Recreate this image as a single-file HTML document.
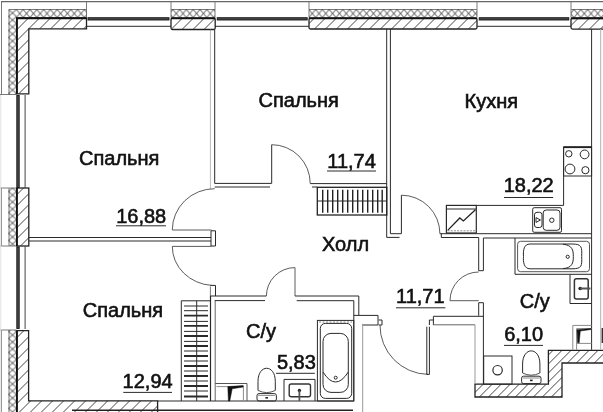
<!DOCTYPE html>
<html lang="ru">
<head>
<meta charset="utf-8">
<title>План квартиры</title>
<style>
html,body{margin:0;padding:0;background:#fff;}
body{width:603px;height:412px;overflow:hidden;}
svg{display:block;}
text{font-family:"Liberation Sans",sans-serif;fill:#111;stroke:#111;stroke-width:0.6;}
.k{stroke:#2a2a2a;stroke-width:1;fill:none;}
.t{stroke:#4a4a4a;stroke-width:0.9;fill:none;}
.k2{stroke:#222;stroke-width:1.6;fill:none;}
.k3{stroke:#111;stroke-width:2.4;fill:none;}
.g{stroke:#8a8a8a;stroke-width:1;fill:none;}
.lg{stroke:#7a7a7a;stroke-width:1;fill:none;}
.w{fill:#fff;stroke:none;}
.room{font-size:20px;}
.area{font-size:20px;}
</style>
</head>
<body>
<svg width="603" height="412" viewBox="0 0 603 412">
<defs>
  <pattern id="diag" width="11" height="11" patternUnits="userSpaceOnUse" patternTransform="translate(2.5,0)">
    <path d="M-1,12 L12,-1 M-1,1 L1,-1 M10,12 L12,10" stroke="#3a3a3a" stroke-width="0.95" fill="none"/>
  </pattern>
  <pattern id="diag9" width="9" height="9" patternUnits="userSpaceOnUse" patternTransform="translate(3.4,0)">
    <path d="M-1,10 L10,-1 M-1,1 L1,-1 M8,10 L10,8" stroke="#3a3a3a" stroke-width="0.95" fill="none"/>
  </pattern>
  <pattern id="crossH" width="6.8" height="8" patternUnits="userSpaceOnUse" patternTransform="translate(9.6,9.5)">
    <path d="M0,0 L6.8,8 M6.8,0 L0,8" stroke="#333" stroke-width="0.9" fill="none"/>
  </pattern>
  <pattern id="crossV" width="8" height="7" patternUnits="userSpaceOnUse" patternTransform="translate(8.5,9.5)">
    <path d="M0,0 L8,7 M8,0 L0,7" stroke="#333" stroke-width="0.9" fill="none"/>
  </pattern>
</defs>
<rect x="0" y="0" width="603" height="412" fill="#fff"/>

<!-- ========== OUTER FRAME (light) ========== -->
<g id="frame" class="lg">
  <path d="M1.5,94.5 V1.7"/>
  <path d="M1,1.6 H603" style="stroke:#666;stroke-width:1.2"/>
  <path d="M86.5,1.7 V17.5"/>
  <path d="M9,94.5 V9.5 H86.5"/>
  <path d="M0,94.5 H16.5"/>
  <path d="M171,1.7 V17.5 M215,1.7 V17.5 M171,9.5 H215"/>
  <path d="M309,1.7 V17.5 M309,9.5 H477 M477,1.7 V17.5"/>
  <path d="M571,1.7 V17.5 M571,9.5 H603"/>
  <path d="M1.5,188 V246 M9,188 V246 M0,188 H16.5 M0,246 H16.5"/>
  <path d="M1.5,330 V412 M9,330 V412 M0,330 H16.5"/>
</g>

<!-- ========== INSULATION (cross hatch) ========== -->
<g id="insul">
  <rect x="16.5" y="9.5" width="70" height="8" fill="url(#crossH)"/>
  <rect x="8.5" y="9.5" width="8" height="85" fill="url(#crossV)"/>
  <rect x="171" y="9.5" width="44" height="8" fill="url(#crossH)"/>
  <rect x="309" y="9.5" width="168" height="8" fill="url(#crossH)"/>
  <rect x="571" y="9.5" width="32" height="8" fill="url(#crossH)"/>
  <rect x="8.5" y="188" width="8" height="58" fill="url(#crossV)"/>
  <rect x="8.5" y="330" width="8" height="82" fill="url(#crossV)"/>
</g>

<!-- ========== STRUCTURAL WALLS (diag hatch) ========== -->
<g id="walls" style="stroke-width:1.3">
  <path d="M16.8,18 H86.5 V28.8 H28.8 V93.8 H16.8 Z" class="k2" style="fill:url(#diag);stroke-width:1.3"/>
  <path d="M16.9,93.8 V18.2 H86.5" class="k3" style="stroke-width:1.9"/>
  <rect x="171" y="18" width="44.2" height="11.5" rx="1.5" class="k2" style="fill:url(#diag);stroke-width:1.3"/>
  <path d="M171,18.4 H215.2" class="k3" style="stroke-width:1.9"/>
  <rect x="309" y="18" width="168" height="11" rx="1.5" class="k2" style="fill:url(#diag);stroke-width:1.3"/>
  <path d="M309,18.4 H477" class="k3" style="stroke-width:1.9"/>
  <path d="M604,18 H572.5 Q571,18 571,19.5 V27.6 Q571,29.1 572.5,29.1 H604" class="k2" style="fill:url(#diag);stroke-width:1.3"/>
  <path d="M571,18.4 H603" class="k3" style="stroke-width:1.9"/>
  <rect x="16.8" y="188" width="12" height="58" class="k2" style="fill:url(#diag);stroke-width:1.3"/>
  <path d="M16.9,188 V246" class="k3" style="stroke-width:1.9"/>
  <path d="M16.8,413 V330.7 H28.6 V400.8 H157.6 V413" class="k2" style="fill:url(#diag);stroke-width:1.3"/>
  <path d="M16.9,330.7 V412" class="k3" style="stroke-width:1.9"/>
  <path d="M475,384.2 H548.4 V350.3 H604 V363 H562 V397 H475 Z" class="k2" style="fill:url(#diag9);stroke-width:1.3"/>
</g>

<!-- ========== WINDOWS ========== -->
<g id="windows">
  <g fill="#4a4a4a" stroke="#161616" stroke-width="0.9">
    <rect x="88" y="17.7" width="81" height="2.3"/>
    <rect x="217.2" y="17.7" width="90" height="2.3"/>
    <rect x="479.2" y="17.7" width="89.6" height="2.3"/>
  </g>
  <path d="M86.5,26.3 H171 M215,26.3 H309 M477,26.3 H571" class="k"/>
  <g fill="#4a4a4a" stroke="#161616" stroke-width="0.9">
    <rect x="16.8" y="95.5" width="2.4" height="92"/>
    <rect x="16.8" y="247" width="2.4" height="81.5"/>
  </g>
  <path d="M25.1,95 V188 M25.1,246 V329" class="k" style="stroke:#444"/>
  <path d="M0.8,95 V412" stroke="#e2e2e2" fill="none"/>
</g>

<!-- ========== PARTITIONS ========== -->
<g id="partitions">
  <!-- bed1 / bed2 vertical -->
  <path d="M210.4,29.5 V188.7" class="lg" stroke-dasharray="1,1"/>
  <path d="M214.7,29.5 V183.4 H271.7" class="k"/>
  <path d="M214.7,187 H270" class="k"/>
  <!-- bed2 door -->
  <path d="M271.7,183.4 V144.7" class="k"/>
  <path d="M271.7,144.7 A38.5,38.7 0 0 1 310.2,183.4" class="t"/>
  <path d="M310.2,183.6 H386.8" class="k"/>
  <path d="M312,187 H317.3" class="k"/>
  <!-- bed2 / kitchen vertical -->
  <path d="M386.7,29 V237.4 H399.5" class="k"/>
  <path d="M390.4,29 V233.7 H401.4 V195.2" class="k"/>
  <path d="M401.4,195.2 A38.5,38.5 0 0 1 439.9,233.7" class="t"/>
  <!-- bed1 door arcs and bed1/bed3 partition -->
  <path d="M214.7,188.7 A42.4,41.3 0 0 0 172.3,230 H211.5" class="t"/>
  <path d="M29,237.5 H211 M29,241 H211" class="k"/>
  <path d="M211,230.8 H215.5 V246 H211 Z" class="k"/>
  <path d="M211.5,246.4 H172.3 A42.4,39 0 0 0 211.7,285.4" class="t"/>
  <path d="M210.4,285.4 H215.5 V296" class="k"/>
  <!-- bath1 top wall -->
  <path d="M210.4,286.5 V296" class="lg"/>
  <path d="M210.5,296 V401" class="k" style="stroke-width:1.2"/>
    <path d="M215.2,300.7 V401" class="k" style="stroke:#666"/>
  <path d="M210.4,296 H266.4 M214.7,300.6 H265" class="k"/>
  <path d="M266.4,296 A28.6,28.4 0 0 1 295,267.6 V296" class="t"/>
  <path d="M295,296 H358.8 V315.4" class="k"/>
  <path d="M296.7,300.7 H353.8 V401" class="k"/>
  <path d="M353.8,315.4 H378 V325 H362" class="k"/>
  <!-- entrance -->
  <path d="M362.7,325 V412" stroke="#999" fill="none"/>
  <path d="M378.7,320 H382 V325 H378.7" class="k"/>
  <path d="M380,325 A49,49 0 0 0 428,374.4" class="t"/>
  <path d="M426.8,326.7 V374.4 H429.4 V326.7" class="k"/>
  <path d="M429.4,320 H433.4 M429.4,320 V325" class="k"/>
  <path d="M433.4,325 V316.3 H483.4" class="k"/>
  <path d="M433.4,324.8 H475" class="k" style="stroke:#666"/>
  <path d="M475,324.8 V384" stroke="#999" fill="none"/>
  <!-- kitchen bottom wall / bath2 -->
  <path d="M439.9,233.7 H591.6" class="k"/>
  <path d="M441.3,233.7 V237.5 H478.7 V270.7 H483.4 V238 H591.6" class="k"/>
  <path d="M478.7,272 A28.7,28.7 0 0 0 450,300.7 H478.7" class="t"/>
  <path d="M478.7,302.7 V315.8 M478.7,302.7 H483.4 V384.2" class="k"/>
  <!-- right wall -->
  <path d="M591.6,29 V349.8" class="k"/>
  <path d="M600.7,29 V349.8" stroke="#b0b0b0" fill="none"/>
  <!-- bottom lines -->
  <path d="M157.6,401 H353.8" class="k"/>
  <path d="M72,410.3 H353" class="k2"/>
</g>

<!-- ========== FURNITURE ========== -->
<g id="furniture">
  <!-- wardrobe in hall -->
  <rect x="317.3" y="187.3" width="69.5" height="27.7" class="k2" style="stroke-width:1.3"/>
  <path d="M317.3,201 H386.8" class="k"/>
  <path d="M322.7,189.7 V212.7 M327.7,189.7 V212.7 M332.7,189.7 V212.7 M337.7,189.7 V212.7 M342.7,189.7 V212.7 M347.7,189.7 V212.7 M352.7,189.7 V212.7 M357.7,189.7 V212.7 M362.7,189.7 V212.7 M367.7,189.7 V212.7 M372.7,189.7 V212.7 M377.7,189.7 V212.7 M382.2,189.7 V212.7" class="k" style="stroke-width:1.4;stroke:#222"/>
  <!-- wardrobe in bed3 -->
  <path d="M181.3,401 V300.8 H210.2" class="k"/>
  <path d="M196.7,300.7 V401" class="k"/>
  <g class="k">
    <path d="M184,306 H208 M184,310.7 H208 M184,321.4 H208 M184,331.4 H208 M184,341.4 H208 M184,351 H208 M184,361 H208 M184,371 H208 M184,381 H208 M184,391 H208"/>
    <path d="M184,315.6 H208 M184,325.8 H208 M184,336 H208 M184,346 H208 M184,356 H208 M184,366 H208 M184,376 H208 M184,386 H208 M184,396.5 H208" style="stroke-width:1.8"/>
  </g>
  <!-- kitchen counter -->
  <path d="M563.6,147 V205.4 H476.3" class="k"/>
  <rect x="563.6" y="147" width="28" height="29" class="k"/>
  <path d="M563.6,147.2 H591.6" class="k2" style="stroke-width:1.8"/>
  <circle cx="568.8" cy="153.8" r="3.2" class="k"/>
  <circle cx="584.6" cy="154.4" r="4.4" class="k"/>
  <circle cx="570" cy="169" r="4.9" class="k"/>
  <circle cx="585.4" cy="170.2" r="3.6" class="k"/>
  <!-- fridge box -->
  <rect x="446.4" y="205.4" width="29.9" height="27.6" class="k" style="stroke-width:1.2"/>
  <path d="M446.4,209 H476.3" class="k"/>
  <path d="M447.7,230.4 L459.8,218 L463.4,221 L475.4,209.7" class="k2" style="stroke-width:1.3"/>
  <path d="M447.5,230.8 H475.5" class="g" stroke-dasharray="2,1.2"/>
  <!-- kitchen sink -->
  <rect x="532.7" y="207.7" width="28.8" height="24.6" rx="1.5" class="k"/>
  <rect x="534.5" y="212.3" width="7.5" height="15.2" rx="2.5" class="k"/>
  <path d="M536,217.6 L540.5,220 L536,222.4 Z" class="k"/>
  <rect x="543.2" y="210" width="16.8" height="20.3" rx="3" class="k"/>
  <circle cx="551.8" cy="220.2" r="2.2" class="k"/>
  <!-- bathtub 2 -->
  <path d="M515,238 V274.3 H591.6" class="k"/>
  <rect x="517.6" y="241.3" width="71.9" height="30.4" rx="3" class="k" style="stroke:#555"/>
  <path d="M530,244 H572 C582,244 582,247 581.7,256.5 C582,266 582,268.8 572,268.8 H530 C524,268.8 523,262 523.5,256.5 C523,250 524,244 530,244 Z" class="k"/>
  <path d="M563,244.3 C572,245 573.5,250 573.3,256.5 C573.5,263 572,268 563,268.6" class="k"/>
  <circle cx="567.7" cy="256.8" r="1.6" class="k"/>
  <!-- washbasin 2 -->
  <path d="M570,274.3 V303.5 H591.6" class="k"/>
  <rect x="574.4" y="278.8" width="13.8" height="20.2" rx="2" class="k3" style="stroke-width:1.5;stroke:#333"/>
  <circle cx="580.2" cy="288.5" r="1.8" fill="#222"/>
  <path d="M580.2,288.5 H590.5" stroke="#555" stroke-width="2" fill="none"/>
  <!-- shaft 2 -->
  <path d="M591.6,325.4 H572.8 V349.8" class="g"/>
  <path d="M591.6,328.6 H576.6 V349.8" class="g"/>
  <path d="M576.6,343.4 H591.6" class="g"/>
  <path d="M577,329.7 L591,328.6 L591,329.5 L580.3,331 L579.2,342.8 L577.6,342.8 Z" fill="#111" stroke="#111" stroke-width="0.5"/>
  <path d="M602.4,328 V343" class="k3" style="stroke-width:1.6;stroke:#333"/>
  <!-- drain box -->
  <rect x="483.7" y="356" width="28.3" height="28.2" class="k"/>
  <circle cx="497.6" cy="370.2" r="4.7" class="k" style="stroke-width:1.2"/>
  <!-- toilet 2 -->
  <g>
    <path d="M522.6,373 V364 C522.6,346.5 539.9,346.5 539.9,364 V373" class="k"/>
    <path d="M522.6,373 Q531.3,377.4 539.9,373" class="k" style="stroke:#555"/>
    <rect x="521.6" y="376.2" width="19.4" height="7.4" rx="2" class="k"/>
    <path d="M522.8,378 H539.8" class="g"/>
    <path d="M530,380.4 H532.6" stroke="#222" stroke-width="1.6" fill="none"/>
  </g>
  <!-- shaft 1 -->
  <path d="M215.3,383.5 H247 V401" class="k" style="stroke:#555"/>
  <path d="M216.5,386.6 H243.4 V401" class="g"/>
  <path d="M227.8,386.6 L243.2,385.6 L243.2,387 L232.2,388.8 L229.8,401 L228.4,401 Z" fill="#111" stroke="#111" stroke-width="0.5"/>
  <!-- toilet 1 -->
  <g transform="translate(-264.6,17.4)">
    <path d="M522.6,373 V364 C522.6,346.5 539.9,346.5 539.9,364 V373" class="k"/>
    <path d="M522.6,373 Q531.3,377.4 539.9,373" class="k" style="stroke:#555"/>
    <rect x="521.6" y="376.2" width="19.4" height="7.4" rx="2" class="k"/>
    <path d="M522.8,378 H539.8" class="g"/>
    <path d="M530,380.4 H532.6" stroke="#222" stroke-width="1.6" fill="none"/>
  </g>
  <!-- washbasin 1 -->
  <path d="M284,401 V379.4 H315 V401" class="k"/>
  <rect x="289.2" y="384" width="21.3" height="12.8" rx="2" class="k3" style="stroke-width:1.4;stroke:#333"/>
  <circle cx="299.4" cy="390.4" r="1.7" fill="#222"/>
  <path d="M299.4,390.4 V401" stroke="#555" stroke-width="1.8" fill="none"/>
  <!-- bathtub 1 -->
  <rect x="317.4" y="320.4" width="36.4" height="80.6" class="k"/>
  <path d="M319,322 H352" class="g" stroke-dasharray="2,1.5"/>
  <rect x="320.3" y="323.4" width="31.4" height="75" rx="5" class="k"/>
  <rect x="323" y="333.4" width="25.3" height="59" rx="8" class="k"/>
  <path d="M323,372 Q335.5,392 348.3,372" class="k"/>
  <circle cx="335.7" cy="377.7" r="1.5" class="k"/>
</g>

<!-- ========== TEXT ========== -->
<g id="labels" style="filter:grayscale(1)">
  <text class="room" x="79" y="165.3">Спальня</text>
  <text class="area" x="116.2" y="222.5">16,88</text>
  <path d="M116,225.8 H166" class="k"/>
  <text class="room" x="258.5" y="107">Спальня</text>
  <text class="area" x="327.3" y="167.5">11,74</text>
  <path d="M327,171 H376" class="k"/>
  <text class="room" x="464.5" y="107.7">Кухня</text>
  <text class="area" x="503.7" y="192.3">18,22</text>
  <path d="M504,197.5 H553.2" class="k"/>
  <text class="room" x="322" y="250.6">Холл</text>
  <text class="area" x="396" y="303.2">11,71</text>
  <path d="M396,307.8 H445.4" class="k"/>
  <text class="room" x="82.8" y="317">Спальня</text>
  <text class="area" x="122.6" y="388">12,94</text>
  <path d="M123.3,392.4 H172" class="k"/>
  <text class="room" x="246" y="338">С/у</text>
  <text class="area" x="276.9" y="368.6">5,83</text>
  <path d="M276,373.3 H314.8" class="k"/>
  <text class="room" x="519.8" y="307.5">С/у</text>
  <text class="area" x="504.2" y="340.6">6,10</text>
  <path d="M504,345.4 H543" class="k"/>
</g>
</svg>
</body>
</html>
